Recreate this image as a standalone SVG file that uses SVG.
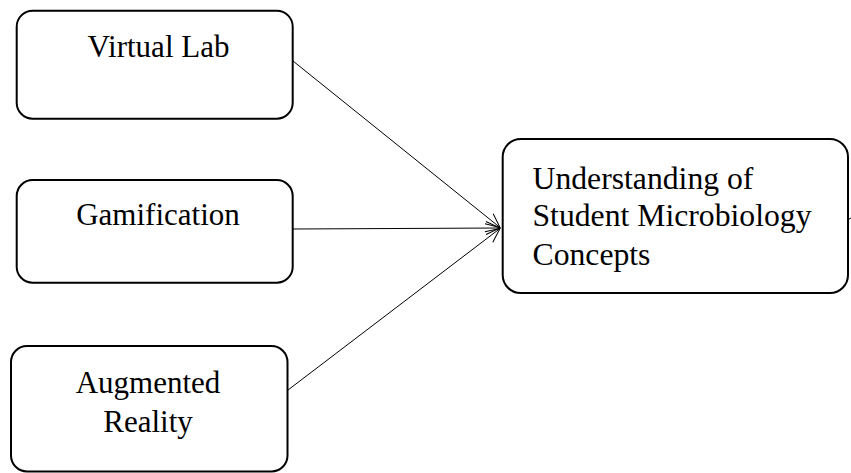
<svg xmlns="http://www.w3.org/2000/svg" width="851" height="473" viewBox="0 0 851 473">
<style>
.box{fill:#fff;stroke:#000;stroke-width:2}
.t{font-family:"Liberation Serif","Times New Roman",serif;font-size:31px;fill:#000}
.t2{font-size:31.7px}
.c{fill:none;stroke:#000;stroke-width:1}
</style>
<defs>
<marker id="ah" markerUnits="userSpaceOnUse" markerWidth="16" markerHeight="16" refX="15" refY="8" orient="auto">
<path d="M1,1.5 L15,8 L1,14.5" fill="none" stroke="#000" stroke-width="1"/>
</marker>
</defs>
<rect width="851" height="473" fill="#fff"/>
<g id="connectors">
<line class="c" x1="293" y1="61" x2="500" y2="227.5" marker-end="url(#ah)"/>
<line class="c" x1="293" y1="229" x2="500" y2="228" marker-end="url(#ah)"/>
<line class="c" x1="288" y1="390" x2="500" y2="228.5" marker-end="url(#ah)"/>
<line class="c" x1="847.5" y1="220" x2="851" y2="218"/>
</g>
<g id="virtual-lab">
<rect class="box" x="16.7" y="10.7" width="276" height="108" rx="16"/>
<text class="t" x="158.5" y="56.5" text-anchor="middle">Virtual Lab</text>
</g>
<g id="gamification">
<rect class="box" x="16.7" y="180" width="276" height="102.7" rx="16"/>
<text class="t" x="158" y="225" text-anchor="middle">Gamification</text>
</g>
<g id="augmented-reality">
<rect class="box" x="11" y="346" width="276.5" height="125.5" rx="16"/>
<text class="t" x="148" y="392.5" text-anchor="middle">Augmented</text>
<text class="t" x="148" y="431.5" text-anchor="middle">Reality</text>
</g>
<g id="understanding">
<rect class="box" x="502.7" y="139" width="345.3" height="154" rx="18"/>
<text class="t t2" x="532.5" y="189.3">Understanding of</text>
<text class="t t2" x="532.5" y="225.5">Student Microbiology</text>
<text class="t t2" x="532.5" y="265">Concepts</text>
</g>
</svg>
